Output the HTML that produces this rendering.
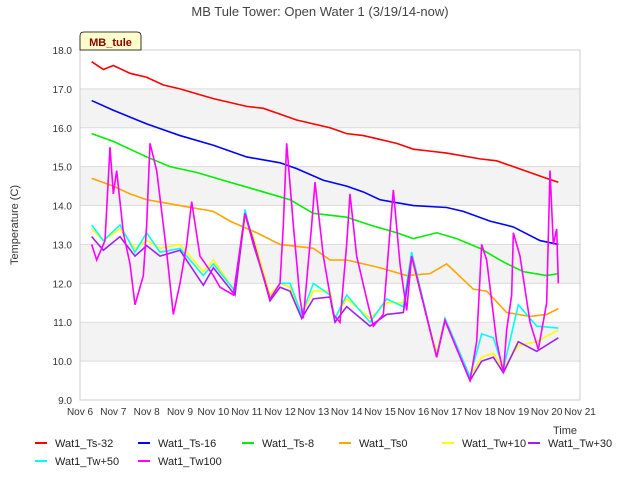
<!DOCTYPE html>
<html><head><meta charset="utf-8"><style>
body{margin:0;background:#fff;font-family:"Liberation Sans",sans-serif}
svg text{font-family:"Liberation Sans",sans-serif}
</style></head><body>
<svg id="c" width="640" height="480" xmlns="http://www.w3.org/2000/svg">
<text x="320" y="16" text-anchor="middle" font-size="13" fill="#444">MB Tule Tower: Open Water 1 (3/19/14-now)</text>
<text transform="translate(18,225) rotate(-90)" text-anchor="middle" font-size="11" fill="#333">Temperature (C)</text>
<text x="553" y="434" font-size="11" fill="#333">Time</text>
<g id="grid"></g><g id="series"></g><g id="axes"></g><g id="legend"></g>
<g><path d="M80,50 V36 Q80,32 84,32 H137 Q141,32 141,36 V50 Z" fill="#ffffcc" stroke="#000" stroke-width="0.8"/>
<text x="110.5" y="46" text-anchor="middle" font-size="11" font-weight="bold" fill="#8b0000">MB_tule</text></g>
</svg>
<script>
const yTicks=[9,10,11,12,13,14,15,16,17,18];
const xTickLabels=["Nov 6","Nov 7","Nov 8","Nov 9","Nov 10","Nov 11","Nov 12","Nov 13","Nov 14","Nov 15","Nov 16","Nov 17","Nov 18","Nov 19","Nov 20","Nov 21"];
const names=["Wat1_Ts-32","Wat1_Ts-16","Wat1_Ts-8","Wat1_Ts0","Wat1_Tw+10","Wat1_Tw+30","Wat1_Tw+50","Wat1_Tw100"];
const colors=["#ff0000","#0000ff","#00ee00","#ffa500","#ffff00","#a020f0","#00ffff","#ff00ff"];
const ts32d=[0.35,0.7,1,1.5,2,2.5,3,4,5,5.5,6,6.5,7,7.5,8,8.5,9,9.5,10,10.5,11,12,12.5,13,13.5,14,14.35];
const ts32v=[17.7,17.5,17.6,17.4,17.3,17.1,17.0,16.75,16.55,16.5,16.35,16.2,16.1,16.0,15.85,15.8,15.7,15.6,15.45,15.4,15.35,15.2,15.15,15.0,14.85,14.7,14.6];
const ts16d=[0.35,1,2,3,4,5,6,6.5,7.3,8,8.5,9,10,11,11.5,12.3,13,13.8,14.35];
const ts16v=[16.7,16.45,16.1,15.8,15.55,15.25,15.1,14.95,14.65,14.5,14.35,14.15,14.0,13.95,13.85,13.6,13.45,13.1,13.0];
const ts8d=[0.35,1,2,2.7,3.5,4.5,5.5,6.3,7,8,8.7,9.5,10,10.7,11.3,12,12.7,13.3,14,14.35];
const ts8v=[15.85,15.65,15.25,15.0,14.85,14.6,14.35,14.15,13.8,13.7,13.5,13.3,13.15,13.3,13.15,12.9,12.55,12.3,12.2,12.25];
const ts0d=[0.35,1,1.5,2,3,4,4.5,5.3,6,7,7.5,8,9,9.8,10.5,11,11.8,12.2,12.8,13.5,14,14.35];
const ts0v=[14.7,14.5,14.3,14.15,14.0,13.85,13.6,13.3,13.0,12.9,12.6,12.6,12.4,12.2,12.25,12.5,11.85,11.8,11.25,11.15,11.2,11.35];
const twd=[0.35,0.7,1.2,1.65,2.0,2.4,3.0,3.7,4.0,4.65,4.95,5.2,5.7,6.0,6.3,6.65,7.0,7.5,7.65,8.0,8.7,9.2,9.7,9.95,10.7,10.95,11.7,12.05,12.4,12.7,13.15,13.7,14.35];
const tw30v=[13.2,12.85,13.2,12.7,12.97,12.7,12.85,11.95,12.4,11.7,13.8,13.1,11.55,11.9,11.8,11.1,11.6,11.65,11.0,11.4,10.9,11.2,11.25,12.7,10.1,11.05,9.5,10.0,10.1,9.7,10.5,10.25,10.6];
const tw10v=[13.4,13.1,13.4,12.9,13.1,12.9,13.0,12.3,12.6,11.8,13.7,13.2,11.7,12.0,11.9,11.2,11.8,11.8,11.1,11.6,11.1,11.5,11.5,12.6,10.2,11.1,9.6,10.1,10.2,9.8,10.4,10.5,10.8];
const tw50v=[13.5,13.1,13.5,12.8,13.3,12.8,12.9,12.2,12.5,11.8,13.9,13.0,11.6,12.0,12.0,11.2,12.0,11.7,11.1,11.7,11.0,11.6,11.4,12.8,10.1,11.1,9.6,10.7,10.6,9.8,11.45,10.9,10.85];
const tw100d=[0.35,0.5,0.75,0.9,1.0,1.1,1.3,1.5,1.65,1.9,2.0,2.1,2.3,2.6,2.8,3.0,3.2,3.35,3.6,4.0,4.2,4.6,4.95,5.2,5.5,5.7,6.0,6.1,6.2,6.4,6.6,6.7,6.95,7.05,7.3,7.6,7.8,8.0,8.1,8.3,8.6,8.8,9.1,9.4,9.6,9.8,9.95,10.7,10.95,11.7,11.9,12.05,12.2,12.5,12.7,12.8,12.95,13.0,13.2,13.5,13.75,14.0,14.1,14.2,14.3,14.35];
const tw100v=[13.0,12.6,13.1,15.5,14.3,14.9,13.3,12.5,11.45,12.2,13.5,15.6,14.9,12.8,11.2,12.0,13.0,14.1,12.7,12.2,11.9,11.7,13.8,13.0,12.2,11.6,12.0,13.5,15.6,13.5,11.6,11.1,13.5,14.6,12.7,11.2,11.0,13.0,14.3,12.7,11.6,10.9,11.2,14.4,12.5,11.3,12.7,10.1,11.05,9.5,10.5,13.0,12.6,10.5,9.7,10.8,11.7,13.3,12.7,11.0,10.3,11.5,14.9,13.0,13.4,12.0];
const X=d=>80+d*500/15, Y=v=>50+(18-v)*350/9;
const NS="http://www.w3.org/2000/svg";
function mk(p,t,a){const e=document.createElementNS(NS,t);for(const k in a)e.setAttribute(k,a[k]);p.appendChild(e);return e;}
const grid=document.getElementById('grid'),axes=document.getElementById('axes'),ser=document.getElementById('series'),leg=document.getElementById('legend');
[[17,16],[15,14],[13,12],[11,10]].forEach(b=>{const r=mk(grid,'rect',{x:80,y:Y(b[0]),width:500,height:Y(b[1])-Y(b[0]),fill:'#f3f3f3'});

});
yTicks.forEach(v=>{const l=mk(grid,'line',{x1:80,x2:580,y1:Y(v),y2:Y(v),stroke:'#dcdcdc'});


const t=mk(axes,'text',{x:72,y:Y(v)+4,'text-anchor':'end','font-size':10,fill:'#333'});t.textContent=v.toFixed(1);

});
xTickLabels.forEach((s,i)=>{const t=mk(axes,'text',{x:X(i),y:415,'text-anchor':'middle','font-size':10,fill:'#333'});t.textContent=s;

});
const fr=mk(axes,'rect',{x:80,y:50,width:500,height:350,fill:'none',stroke:'#ccc'});


const S=[[ts32d,ts32v],[ts16d,ts16v],[ts8d,ts8v],[ts0d,ts0v],[twd,tw10v],[twd,tw30v],[twd,tw50v],[tw100d,tw100v]];
const order=[0,1,2,3,4,6,5,7];
order.forEach(i=>{const [d,v]=S[i];const p=mk(ser,'polyline',{points:d.map((x,j)=>X(x)+','+Y(v[j])).join(' '),fill:'none',stroke:colors[i],'stroke-width':1.6});

});
const lp=[[35,443],[138,443],[242,443],[339,443],[442,443],[528,443],[35,461],[138,461]];
const lorder=[0,1,2,3,4,5,6,7];
lorder.forEach((i,k)=>{const [x,y]=lp[k];const g=mk(leg,'g',{});


mk(g,'line',{x1:x,x2:x+12,y1:y,y2:y,stroke:colors[i],'stroke-width':2});
const t=mk(g,'text',{x:x+20,y:y+4,'font-size':11,fill:'#222'});t.textContent=names[i];});
</script>
</body></html>
